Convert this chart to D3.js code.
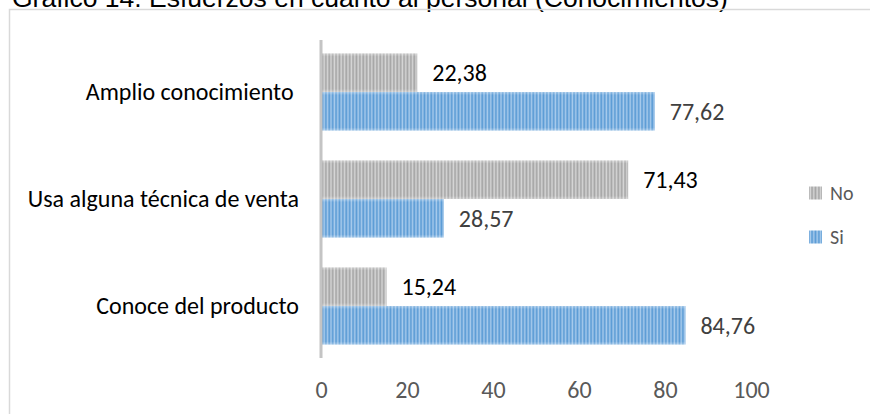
<!DOCTYPE html>
<html>
<head>
<meta charset="utf-8">
<script src="https://cdn.jsdelivr.net/npm/d3@7"></script>
<style>
  html, body { margin: 0; padding: 0; background: #fff; }
  svg { display: block; }
</style>
</head>
<body>
<svg id="chart" width="870" height="414"></svg>
<script>
// Categories, top to bottom
const categories = ["Amplio conocimiento ", "Usa alguna técnica de venta", "Conoce del producto"];
// Series values (percent)
const seriesNames = ["No", "Si"];
const noValues = [22.38, 71.43, 15.24];
const siValues = [77.62, 28.57, 84.76];
const noLabels = ["22,38", "71,43", "15,24"];
const siLabels = ["77,62", "28,57", "84,76"];
const xTicks = [0, 20, 40, 60, 80, 100];
const titleText = "Gráfico 14. Esfuerzos en cuanto al personal (Conocimientos)";

const svg = d3.select("#chart");
const W = 870, H = 414;
const font = "Carlito, Lato, 'Open Sans', sans-serif";

// Patterns: vertical stripes for each series
const defs = svg.append("defs");
function stripePattern(id, dark, light) {
  const p = defs.append("pattern")
    .attr("id", id)
    .attr("patternUnits", "userSpaceOnUse")
    .attr("width", 3.4).attr("height", 10);
  p.append("rect").attr("width", 3.4).attr("height", 10).attr("fill", dark);
  p.append("rect").attr("x", 0.4).attr("width", 1.6).attr("height", 10).attr("fill", light);
}
stripePattern("pat-no", "#a5a5a5", "#d6d6d6");
stripePattern("pat-si", "#5b9bd5", "#a7cbec");

// Soft top/bottom edge for bars
const grad = defs.append("linearGradient").attr("id", "edge")
  .attr("x1", 0).attr("y1", 0).attr("x2", 0).attr("y2", 1);
grad.append("stop").attr("offset", "0%").attr("stop-color", "#fff").attr("stop-opacity", 0.35);
grad.append("stop").attr("offset", "8%").attr("stop-color", "#fff").attr("stop-opacity", 0);
grad.append("stop").attr("offset", "92%").attr("stop-color", "#fff").attr("stop-opacity", 0);
grad.append("stop").attr("offset", "100%").attr("stop-color", "#fff").attr("stop-opacity", 0.35);

// Title (partly above the canvas)
svg.append("text")
  .attr("x", 12).attr("y", 7)
  .attr("font-family", "'Liberation Sans', Arial, sans-serif")
  .attr("font-size", 26.5)
  .attr("fill", "#000")
  .text(titleText);

// Chart frame
svg.append("rect")
  .attr("x", 9.5).attr("y", 9.5)
  .attr("width", W + 20).attr("height", H + 20)
  .attr("fill", "none")
  .attr("stroke", "#d9d9d9")
  .attr("stroke-width", 1.5);

// Scales
const x = d3.scaleLinear().domain([0, 100]).range([321, 751]);
const y = d3.scaleBand().domain(categories).range([38.5, 359.5])
  .paddingInner(0.28).paddingOuter(0.14);
const ySeries = d3.scaleBand().domain(seriesNames).range([0, y.bandwidth()]);

const rows = categories.map((c, i) => ({
  cat: c,
  bars: [
    { s: "No", v: noValues[i], label: noLabels[i], pat: "url(#pat-no)", color: "#000" },
    { s: "Si", v: siValues[i], label: siLabels[i], pat: "url(#pat-si)", color: "#404040" }
  ]
}));

const groups = svg.append("g").selectAll("g").data(rows).join("g")
  .attr("transform", d => `translate(0,${y(d.cat)})`);

groups.selectAll("rect.bar").data(d => d.bars).join("rect")
  .attr("class", "bar")
  .attr("x", x(0))
  .attr("y", d => ySeries(d.s))
  .attr("width", d => x(d.v) - x(0))
  .attr("height", ySeries.bandwidth())
  .attr("fill", d => d.pat);

groups.selectAll("rect.edge").data(d => d.bars).join("rect")
  .attr("class", "edge")
  .attr("x", x(0))
  .attr("y", d => ySeries(d.s))
  .attr("width", d => x(d.v) - x(0))
  .attr("height", ySeries.bandwidth())
  .attr("fill", "url(#edge)");

groups.selectAll("text.val").data(d => d.bars).join("text")
  .attr("class", "val")
  .attr("x", d => x(d.v) + 15)
  .attr("y", d => ySeries(d.s) + ySeries.bandwidth() / 2)
  .attr("dy", "0.35em")
  .attr("font-family", font)
  .attr("font-size", 24)
  .attr("fill", d => d.color)
  .text(d => d.label);

// Category axis
const yAxis = svg.append("g").attr("transform", `translate(299,0)`)
  .call(d3.axisLeft(y).tickSize(0).tickPadding(0));
yAxis.select(".domain").remove();
yAxis.selectAll("text")
  .attr("font-family", font)
  .attr("font-size", 24)
  .attr("fill", "#000")
  .attr("dy", "0.35em")
  .style("white-space", "pre");

// Vertical axis line
svg.append("line")
  .attr("x1", x(0)).attr("x2", x(0))
  .attr("y1", 40).attr("y2", 358)
  .attr("stroke", "#c4c4c4").attr("stroke-width", 3);

// Value axis (labels only)
const xAxis = svg.append("g").attr("transform", `translate(0,380)`)
  .call(d3.axisBottom(x).tickValues(xTicks).tickFormat(d3.format("d")).tickSize(0).tickPadding(0));
xAxis.select(".domain").remove();
xAxis.selectAll("text")
  .attr("font-family", font)
  .attr("font-size", 24)
  .attr("fill", "#595959")
  .attr("dy", "0.35em")
  .attr("y", 10);

// Legend
const legend = svg.append("g");
const legendItems = [
  { s: "No", pat: "url(#pat-no)", cy: 193 },
  { s: "Si", pat: "url(#pat-si)", cy: 237 }
];
legend.selectAll("rect").data(legendItems).join("rect")
  .attr("x", 809).attr("y", d => d.cy - 6.5)
  .attr("width", 13).attr("height", 13)
  .attr("fill", d => d.pat);
legend.selectAll("text").data(legendItems).join("text")
  .attr("x", 830).attr("y", d => d.cy)
  .attr("dy", "0.35em")
  .attr("font-family", font)
  .attr("font-size", 20)
  .attr("fill", "#595959")
  .text(d => d.s);
</script>
</body>
</html>
